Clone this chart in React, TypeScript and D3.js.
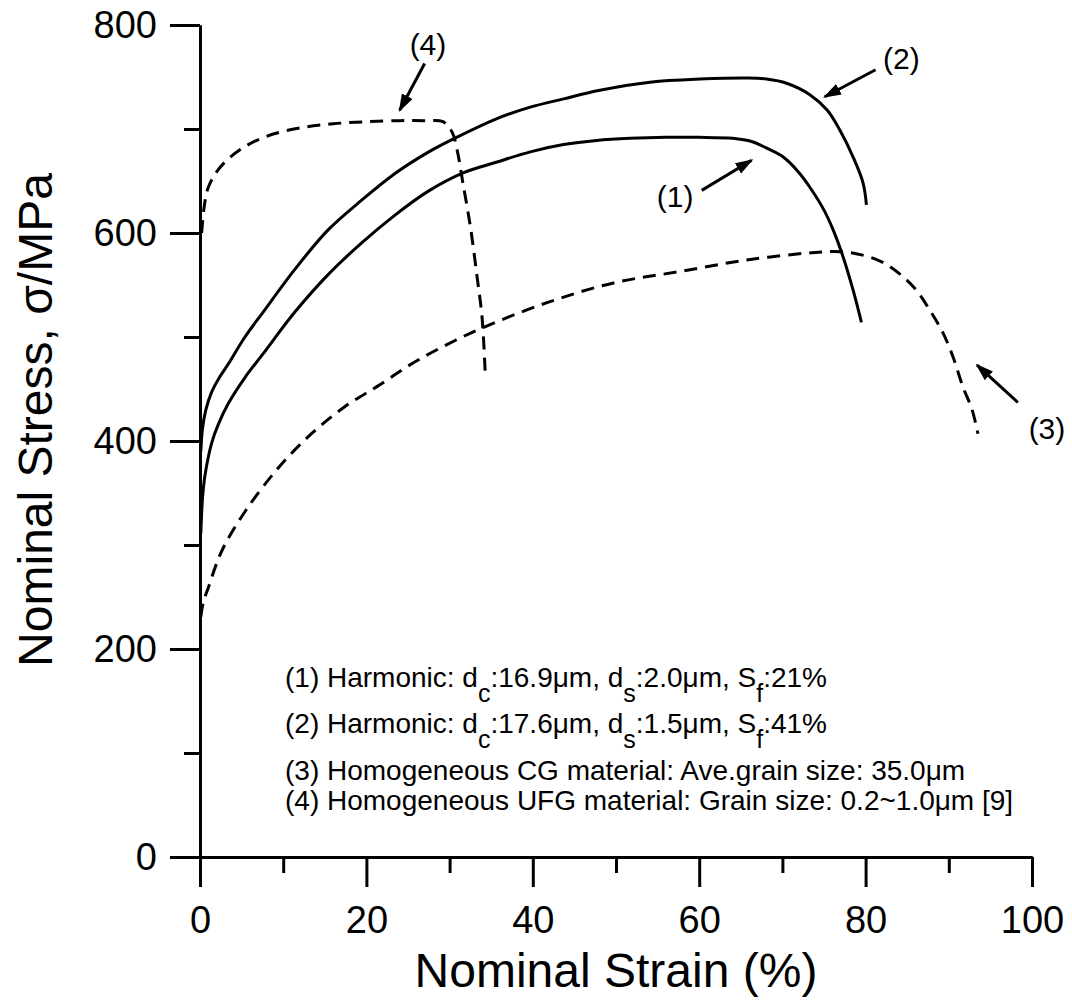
import React, { useEffect, useRef } from 'react';
import * as d3 from 'd3';

// curve (1) harmonic, dc 16.9um
const strain1 = [0.1, 0.3, 0.6, 1.4, 2.2, 3.4, 5.4, 7.5, 11.4, 15.4, 19.5, 23.4, 27.4, 31.7, 35.6, 39.7, 43.7, 47.7, 51.7, 56, 60, 64, 66.3, 68, 70.1, 72, 73.3, 75, 76.1, 77.3, 78.5, 79.5];
const stress1 = [311, 345, 367, 398, 416, 436, 461, 483, 524, 560, 591, 617, 640, 658, 668, 678, 685, 689, 691, 692, 692, 691, 688, 682, 673, 658, 644, 622, 603, 577, 545, 514];

// curve (2) harmonic, dc 17.6um
const strain2 = [0.1, 0.3, 0.7, 1.4, 2.4, 3.4, 5.4, 7.5, 11.4, 15.4, 19.5, 23.4, 27.5, 30.6, 35.7, 39.7, 43.7, 47.9, 54.1, 60.1, 66, 68.1, 70.5, 73.3, 75.4, 76.9, 78.5, 79.7, 80.1];
const stress2 = [390, 412, 430, 447, 462, 474, 500, 523, 565, 603, 632, 657, 678, 691, 710, 721, 729, 737, 745, 748, 749, 748, 744, 733, 718, 699, 673, 648, 627];

// curve (3) homogeneous CG
const strain3 = [0.1, 0.4, 1.0, 2.6, 5.4, 9.4, 13.4, 17.4, 21.4, 25.4, 29.5, 34, 41.7, 49.7, 57.7, 65.7, 73.5, 77, 79.5, 82, 84.2, 86.1, 87.7, 89.3, 90.5, 91.7, 92.8, 93.5];
const stress3 = [231, 245, 259, 294, 332, 374, 407, 433, 453, 474, 492, 509, 533, 552, 563, 574, 581, 582, 579, 572, 560, 545, 526, 504, 481, 452, 430, 407];

// curve (4) homogeneous UFG
const strain4 = [0.2, 0.5, 1.0, 2.4, 4.8, 8.0, 12, 16, 20, 24, 27, 29.2, 30.3, 30.9, 31.6, 32.5, 33.3, 33.9, 34.3];
const stress4 = [600, 625, 644, 663, 680, 693, 701, 705, 707, 708, 708, 707, 697, 680, 648, 606, 558, 519, 462];

const xMajor = [0, 20, 40, 60, 80, 100];
const xMinor = [10, 30, 50, 70, 90];
const yMajor = [0, 200, 400, 600, 800];
const yMinor = [100, 300, 500, 700];

const xTitle = 'Nominal Strain (%)';
const yTitle = 'Nominal Stress, σ/MPa';

// legend lines: [text, isSubscript]
const legendLines: [string, boolean][][] = [
  [['(1) Harmonic: d', false], ['c', true], [':16.9μm, d', false], ['s', true], [':2.0μm, S', false], ['f', true], [':21%', false]],
  [['(2) Harmonic: d', false], ['c', true], [':17.6μm, d', false], ['s', true], [':1.5μm, S', false], ['f', true], [':41%', false]],
  [['(3) Homogeneous CG material: Ave.grain size: 35.0μm', false]],
  [['(4) Homogeneous UFG material: Grain size: 0.2~1.0μm [9]', false]],
];

// callout labels, in data units: label position, arrow tail, arrow head
const callouts = [
  { label: '(1)', at: [57.1, 625], from: [60.3, 641], to: [66.3, 670] },
  { label: '(2)', at: [84.3, 758], from: [81.2, 757], to: [75.1, 731] },
  { label: '(3)', at: [101.8, 402], from: [98.3, 437], to: [93.4, 473] },
  { label: '(4)', at: [27.4, 771], from: [27.0, 763], to: [24.0, 718] },
];

const font = "'Liberation Sans', Arial, Helvetica, sans-serif";

const App = () => {
  const svgRef = useRef<SVGSVGElement>(null);

  useEffect(() => {
    const svg = d3.select(svgRef.current);
    svg.selectAll('*').remove();

    const x = d3.scaleLinear().domain([0, 100]).range([200, 1032]);
    const y = d3.scaleLinear().domain([0, 800]).range([857, 25]);

    svg.append('defs').append('marker')
      .attr('id', 'arrowhead')
      .attr('viewBox', '0 0 18 12')
      .attr('refX', 16)
      .attr('refY', 6)
      .attr('markerWidth', 18)
      .attr('markerHeight', 12)
      .attr('markerUnits', 'userSpaceOnUse')
      .attr('orient', 'auto')
      .append('path')
      .attr('d', 'M0,0 L18,6 L0,12 Z')
      .attr('fill', '#000');

    // axes
    const styleAxis = (g: any, size: number) => {
      g.selectAll('path.domain').attr('stroke', '#000').attr('stroke-width', 3);
      g.selectAll('.tick line').attr('stroke', '#000').attr('stroke-width', 3);
      g.selectAll('.tick text').attr('font-size', size).attr('font-family', font).attr('fill', '#000');
    };

    const gxMinor = svg.append('g').attr('transform', `translate(0,${y(0)})`)
      .call(d3.axisBottom(x).tickValues(xMinor).tickSize(16).tickSizeOuter(0).tickFormat(() => ''));
    styleAxis(gxMinor, 38);
    const gx = svg.append('g').attr('transform', `translate(0,${y(0)})`)
      .call(d3.axisBottom(x).tickValues(xMajor).tickSize(30).tickSizeOuter(0).tickPadding(19).tickFormat(d3.format('d')));
    styleAxis(gx, 38);

    const gyMinor = svg.append('g').attr('transform', `translate(${x(0)},0)`)
      .call(d3.axisLeft(y).tickValues(yMinor).tickSize(16).tickSizeOuter(0).tickFormat(() => ''));
    styleAxis(gyMinor, 38);
    const gy = svg.append('g').attr('transform', `translate(${x(0)},0)`)
      .call(d3.axisLeft(y).tickValues(yMajor).tickSize(30).tickSizeOuter(0).tickPadding(13).tickFormat(d3.format('d')));
    styleAxis(gy, 38);

    // curves
    const line = d3.line<[number, number]>()
      .x(d => x(d[0]))
      .y(d => y(d[1]))
      .curve(d3.curveCatmullRom.alpha(0.5));

    const series = [
      { xs: strain1, ys: stress1, dashed: false },
      { xs: strain2, ys: stress2, dashed: false },
      { xs: strain3, ys: stress3, dashed: true },
      { xs: strain4, ys: stress4, dashed: true },
    ];

    series.forEach(s => {
      svg.append('path')
        .datum(s.xs.map((v, i) => [v, s.ys[i]] as [number, number]))
        .attr('fill', 'none')
        .attr('stroke', '#000')
        .attr('stroke-width', 3)
        .attr('stroke-linejoin', 'round')
        .attr('stroke-dasharray', s.dashed ? '13,8' : null)
        .attr('d', line);
    });

    // callouts
    callouts.forEach(c => {
      svg.append('text')
        .attr('x', x(c.at[0]))
        .attr('y', y(c.at[1]))
        .attr('text-anchor', 'middle')
        .attr('font-size', 30)
        .attr('font-family', font)
        .text(c.label);
      svg.append('line')
        .attr('x1', x(c.from[0])).attr('y1', y(c.from[1]))
        .attr('x2', x(c.to[0])).attr('y2', y(c.to[1]))
        .attr('stroke', '#000')
        .attr('stroke-width', 3)
        .attr('marker-end', 'url(#arrowhead)');
    });

    // legend block
    const legendY = [687, 733, 780, 810];
    legendLines.forEach((parts, i) => {
      const t = svg.append('text')
        .attr('x', 285)
        .attr('y', legendY[i])
        .attr('font-size', 28)
        .attr('font-family', font);
      let down = false;
      parts.forEach(([txt, sub]) => {
        const dy = sub && !down ? 15 : !sub && down ? -15 : 0;
        down = sub;
        t.append('tspan')
          .attr('dy', dy)
          .attr('font-size', sub ? 25 : 28)
          .text(txt);
      });
    });

    // axis titles
    svg.append('text')
      .attr('x', (x(0) + x(100)) / 2)
      .attr('y', 987)
      .attr('text-anchor', 'middle')
      .attr('font-size', 48)
      .attr('font-family', font)
      .text(xTitle);

    svg.append('text')
      .attr('transform', 'translate(52,420) rotate(-90)')
      .attr('text-anchor', 'middle')
      .attr('font-size', 48)
      .attr('font-family', font)
      .text(yTitle);
  }, []);

  return (
    <>
      <style>{'body{margin:0;background:#fff;}'}</style>
      <svg ref={svgRef} width={1072} height={1001} style={{ display: 'block' }} />
    </>
  );
};

export default App;
